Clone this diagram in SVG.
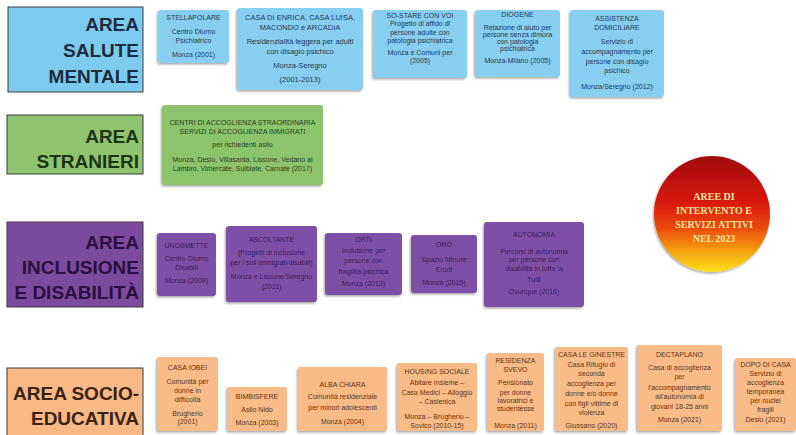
<svg xmlns="http://www.w3.org/2000/svg" width="796" height="435" viewBox="0 0 796 435">
<defs>
<filter id="sh" x="-10%" y="-10%" width="125%" height="125%">
<feDropShadow dx="-1" dy="1.5" stdDeviation="1.2" flood-color="#000" flood-opacity="0.35"/>
</filter>
<linearGradient id="cg" x1="0" y1="0" x2="0" y2="1">
<stop offset="0" stop-color="#a00a0a"/>
<stop offset="0.4" stop-color="#d8180f"/>
<stop offset="0.62" stop-color="#ea4a0c"/>
<stop offset="0.82" stop-color="#f7a010"/>
<stop offset="1" stop-color="#ffe21c"/>
</linearGradient>
</defs>
<style>
.ab{stroke:#3a3a3a;stroke-width:1}
.at{font-family:"Liberation Sans",Arial,sans-serif;font-weight:bold;font-size:19px;text-anchor:end}
.sb{filter:url(#sh)}
.t{font-family:"Liberation Sans",Arial,sans-serif;font-size:7px;text-anchor:middle}
.bl{fill:#88cef0}
.gr{fill:#8cc46c}
.pu{fill:#7e4fa6}
.or{fill:#f9bb88}
.tb{fill:#1e3a56}
.tg{fill:#24421a}
.tp{fill:#3c1a5e}
.to{fill:#5e3412}
.ct{font-family:"Liberation Serif","Times New Roman",serif;font-weight:bold;font-size:10px;text-anchor:middle;fill:#f8e49a}
</style>
<rect width="796" height="435" fill="#ffffff"/>

<g id="area-salute">
<rect class="ab" x="8" y="7" width="135" height="85" fill="#7dcaef"/>
<text class="at" fill="#1c2c3c"><tspan x="139" y="31">AREA</tspan><tspan x="139" y="57">SALUTE</tspan><tspan x="139" y="83">MENTALE</tspan></text>
</g>
<g id="area-stranieri">
<rect class="ab" x="7" y="115" width="136" height="59" fill="#8ec470"/>
<text class="at" fill="#1e3414"><tspan x="139" y="143">AREA</tspan><tspan x="139" y="168">STRANIERI</tspan></text>
</g>
<g id="area-inclusione">
<rect class="ab" x="7" y="222" width="136" height="85" fill="#7c4a9e"/>
<text class="at" fill="#2a1040"><tspan x="139" y="249">AREA</tspan><tspan x="139" y="274">INCLUSIONE</tspan><tspan x="139" y="299">E DISABILITÀ</tspan></text>
</g>
<g id="area-socio">
<rect class="ab" x="7" y="368" width="136" height="72" fill="#f8b987"/>
<text class="at" fill="#3a2210"><tspan x="139" y="400">AREA SOCIO-</tspan><tspan x="139" y="425">EDUCATIVA</tspan></text>
</g>

<g id="stellapolare">
<rect class="sb bl" x="158" y="10" width="71" height="53" rx="3"/>
<text class="t tb"><tspan x="193.5" y="20">STELLAPOLARE</tspan><tspan x="193.5" y="34">Centro Diurno</tspan><tspan x="193.5" y="43">Psichiatrico</tspan><tspan x="193.5" y="57">Monza (2001)</tspan></text>
</g>
<g id="casa-enrica">
<rect class="sb bl" x="237" y="8" width="126" height="82" rx="3"/>
<text class="t tb" style="font-size:7.5px"><tspan x="300" y="20">CASA DI ENRICA, CASA LUISA,</tspan><tspan x="300" y="30">MACONDO e ARCADIA</tspan><tspan x="300" y="44">Residenzialità leggera per adulti</tspan><tspan x="300" y="54">con disagio psichico</tspan><tspan x="300" y="68">Monza-Seregno</tspan><tspan x="300" y="82">(2001-2013)</tspan></text>
</g>
<g id="so-stare">
<rect class="sb bl" x="373" y="10" width="94" height="68" rx="3"/>
<text class="t tb"><tspan x="420" y="18">SO-STARE CON VOI</tspan><tspan x="420" y="26">Progetto di affido di</tspan><tspan x="420" y="35">persone adulte con</tspan><tspan x="420" y="43">patologia psichiatrica</tspan><tspan x="420" y="55">Monza e Comuni per</tspan><tspan x="420" y="63">(2005)</tspan></text>
</g>
<g id="diogene">
<rect class="sb bl" x="475" y="10" width="85" height="67" rx="3"/>
<text class="t tb"><tspan x="517.5" y="17">DIOGENE</tspan><tspan x="517.5" y="30">Relazione di aiuto per</tspan><tspan x="517.5" y="37">persone senza dimora</tspan><tspan x="517.5" y="44">con patologia</tspan><tspan x="517.5" y="51">psichiatrica</tspan><tspan x="517.5" y="63">Monza-Milano (2005)</tspan></text>
</g>
<g id="assistenza">
<rect class="sb bl" x="570" y="10" width="94" height="87" rx="3"/>
<text class="t tb"><tspan x="617" y="21">ASSISTENZA</tspan><tspan x="617" y="30">DOMICILIARE</tspan><tspan x="617" y="44">Servizio di</tspan><tspan x="617" y="54">accompagnamento per</tspan><tspan x="617" y="64">persone con disagio</tspan><tspan x="617" y="73">psichico</tspan><tspan x="617" y="89">Monza/Seregno (2012)</tspan></text>
</g>

<g id="cas">
<rect class="sb gr" x="162" y="105" width="161" height="80" rx="3"/>
<text class="t tg"><tspan x="242.5" y="125">CENTRI DI ACCOGLIENZA STRAORDINARIA</tspan><tspan x="242.5" y="134">SERVIZI DI ACCOGLIENZA IMMIGRATI</tspan><tspan x="242.5" y="147">per richiedenti asilo</tspan><tspan x="242.5" y="162">Monza, Desio, Villasanta, Lissone, Vedano al</tspan><tspan x="242.5" y="171">Lambro, Vimercate, Sulbiate, Carnate (2017)</tspan></text>
</g>

<g id="unosmette">
<rect class="sb pu" x="157" y="233" width="59" height="63" rx="3"/>
<text class="t tp"><tspan x="186.5" y="248">UNOSMETTE</tspan><tspan x="186.5" y="261">Centro Diurno</tspan><tspan x="186.5" y="270">Disabili</tspan><tspan x="186.5" y="283">Monza (2009)</tspan></text>
</g>
<g id="ascoltante">
<rect class="sb pu" x="226" y="226" width="91" height="76" rx="3"/>
<text class="t tp"><tspan x="271.5" y="242">ASCOLTANTE</tspan><tspan x="271.5" y="255">(Progetti di inclusione</tspan><tspan x="271.5" y="265">per i soli immigrati/disabili)</tspan><tspan x="271.5" y="279">Monza e Lissone/Seregno</tspan><tspan x="271.5" y="289">(2011)</tspan></text>
</g>
<g id="orti">
<rect class="sb pu" x="325" y="233" width="77" height="62" rx="3"/>
<text class="t tp"><tspan x="363.5" y="242">ORTI</tspan><tspan x="363.5" y="253">Inclusione per</tspan><tspan x="363.5" y="263">persone con</tspan><tspan x="363.5" y="274">fragilità psichica</tspan><tspan x="363.5" y="286">Monza (2013)</tspan></text>
</g>
<g id="oro">
<rect class="sb pu" x="411" y="235" width="66" height="58" rx="3"/>
<text class="t tp"><tspan x="444" y="247">ORO</tspan><tspan x="444" y="262">Spazio Minore</tspan><tspan x="444" y="272">Erodi</tspan><tspan x="444" y="285">Monza (2015)</tspan></text>
</g>
<g id="autonomia">
<rect class="sb pu" x="484" y="222" width="100" height="85" rx="3"/>
<text class="t tp"><tspan x="534" y="237">AUTONOMIA</tspan><tspan x="534" y="254">Percorsi di autonomia</tspan><tspan x="534" y="262">per persone con</tspan><tspan x="534" y="271">disabilità in tutta la</tspan><tspan x="534" y="282">Tutti</tspan><tspan x="534" y="294">Ovunque (2016)</tspan></text>
</g>

<g id="casa-iobei">
<rect class="sb or" x="157" y="357" width="61" height="74" rx="2"/>
<text class="t to"><tspan x="187.5" y="370">CASA IOBEI</tspan><tspan x="187.5" y="384">Comunità per</tspan><tspan x="187.5" y="393">donne in</tspan><tspan x="187.5" y="402">difficoltà</tspan><tspan x="187.5" y="416">Brugherio</tspan><tspan x="187.5" y="424">(2001)</tspan></text>
</g>
<g id="bimbisfere">
<rect class="sb or" x="227" y="387" width="60" height="44" rx="2"/>
<text class="t to"><tspan x="257" y="399">BIMBISFERE</tspan><tspan x="257" y="412">Asilo Nido</tspan><tspan x="257" y="425">Monza (2003)</tspan></text>
</g>
<g id="alba-chiara">
<rect class="sb or" x="298" y="367" width="89" height="64" rx="2"/>
<text class="t to"><tspan x="342.5" y="387">ALBA CHIARA</tspan><tspan x="342.5" y="399">Comunità residenziale</tspan><tspan x="342.5" y="410">per minori adolescenti</tspan><tspan x="342.5" y="424">Monza (2004)</tspan></text>
</g>
<g id="housing">
<rect class="sb or" x="397" y="363" width="80" height="68" rx="2"/>
<text class="t to"><tspan x="437" y="374">HOUSING SOCIALE</tspan><tspan x="437" y="385">Abitare Insieme –</tspan><tspan x="437" y="395">Casa Medici – Alloggio</tspan><tspan x="437" y="404">– Caslenica</tspan><tspan x="437" y="419">Monza – Brugherio –</tspan><tspan x="437" y="428">Sovico (2010-15)</tspan></text>
</g>
<g id="residenza-svevo">
<rect class="sb or" x="487" y="353" width="57" height="78" rx="2"/>
<text class="t to"><tspan x="515.5" y="363">RESIDENZA</tspan><tspan x="515.5" y="372">SVEVO</tspan><tspan x="515.5" y="385">Pensionato</tspan><tspan x="515.5" y="395">per donne</tspan><tspan x="515.5" y="403">lavoratrici e</tspan><tspan x="515.5" y="411">studentesse</tspan><tspan x="515.5" y="428">Monza (2011)</tspan></text>
</g>
<g id="ginestre">
<rect class="sb or" x="555" y="347" width="73" height="84" rx="2"/>
<text class="t to"><tspan x="591.5" y="357">CASA LE GINESTRE</tspan><tspan x="591.5" y="367">Casa Rifugio di</tspan><tspan x="591.5" y="376">seconda</tspan><tspan x="591.5" y="386">accoglienza per</tspan><tspan x="591.5" y="396">donne e/o donne</tspan><tspan x="591.5" y="406">con figli vittime di</tspan><tspan x="591.5" y="415">violenza</tspan><tspan x="591.5" y="428">Giussano (2020)</tspan></text>
</g>
<g id="dectaplano">
<rect class="sb or" x="637" y="345" width="85" height="86" rx="2"/>
<text class="t to"><tspan x="679.5" y="357">DECTAPLANO</tspan><tspan x="679.5" y="370">Casa di accoglienza</tspan><tspan x="679.5" y="379">per</tspan><tspan x="679.5" y="390">l'accompagnamento</tspan><tspan x="679.5" y="399">all'autonomia di</tspan><tspan x="679.5" y="409">giovani 18-25 anni</tspan><tspan x="679.5" y="422">Monza (2021)</tspan></text>
</g>
<g id="dopo-di-casa">
<rect class="sb or" x="735" y="358" width="61" height="73" rx="2"/>
<text class="t to"><tspan x="765.5" y="367">DOPO DI CASA</tspan><tspan x="765.5" y="376">Servizio di</tspan><tspan x="765.5" y="385">accoglienza</tspan><tspan x="765.5" y="394">temporanea</tspan><tspan x="765.5" y="403">per nuclei</tspan><tspan x="765.5" y="412">fragili</tspan><tspan x="765.5" y="422">Desio (2021)</tspan></text>
</g>

<g id="titolo">
<circle cx="712" cy="214" r="58" fill="url(#cg)" filter="url(#sh)"/>
<text class="ct"><tspan x="714" y="200">AREE DI</tspan><tspan x="714" y="214">INTERVENTO E</tspan><tspan x="714" y="228">SERVIZI ATTIVI</tspan><tspan x="714" y="242">NEL 2023</tspan></text>
</g>

<g id="connectors"></g>
</svg>
